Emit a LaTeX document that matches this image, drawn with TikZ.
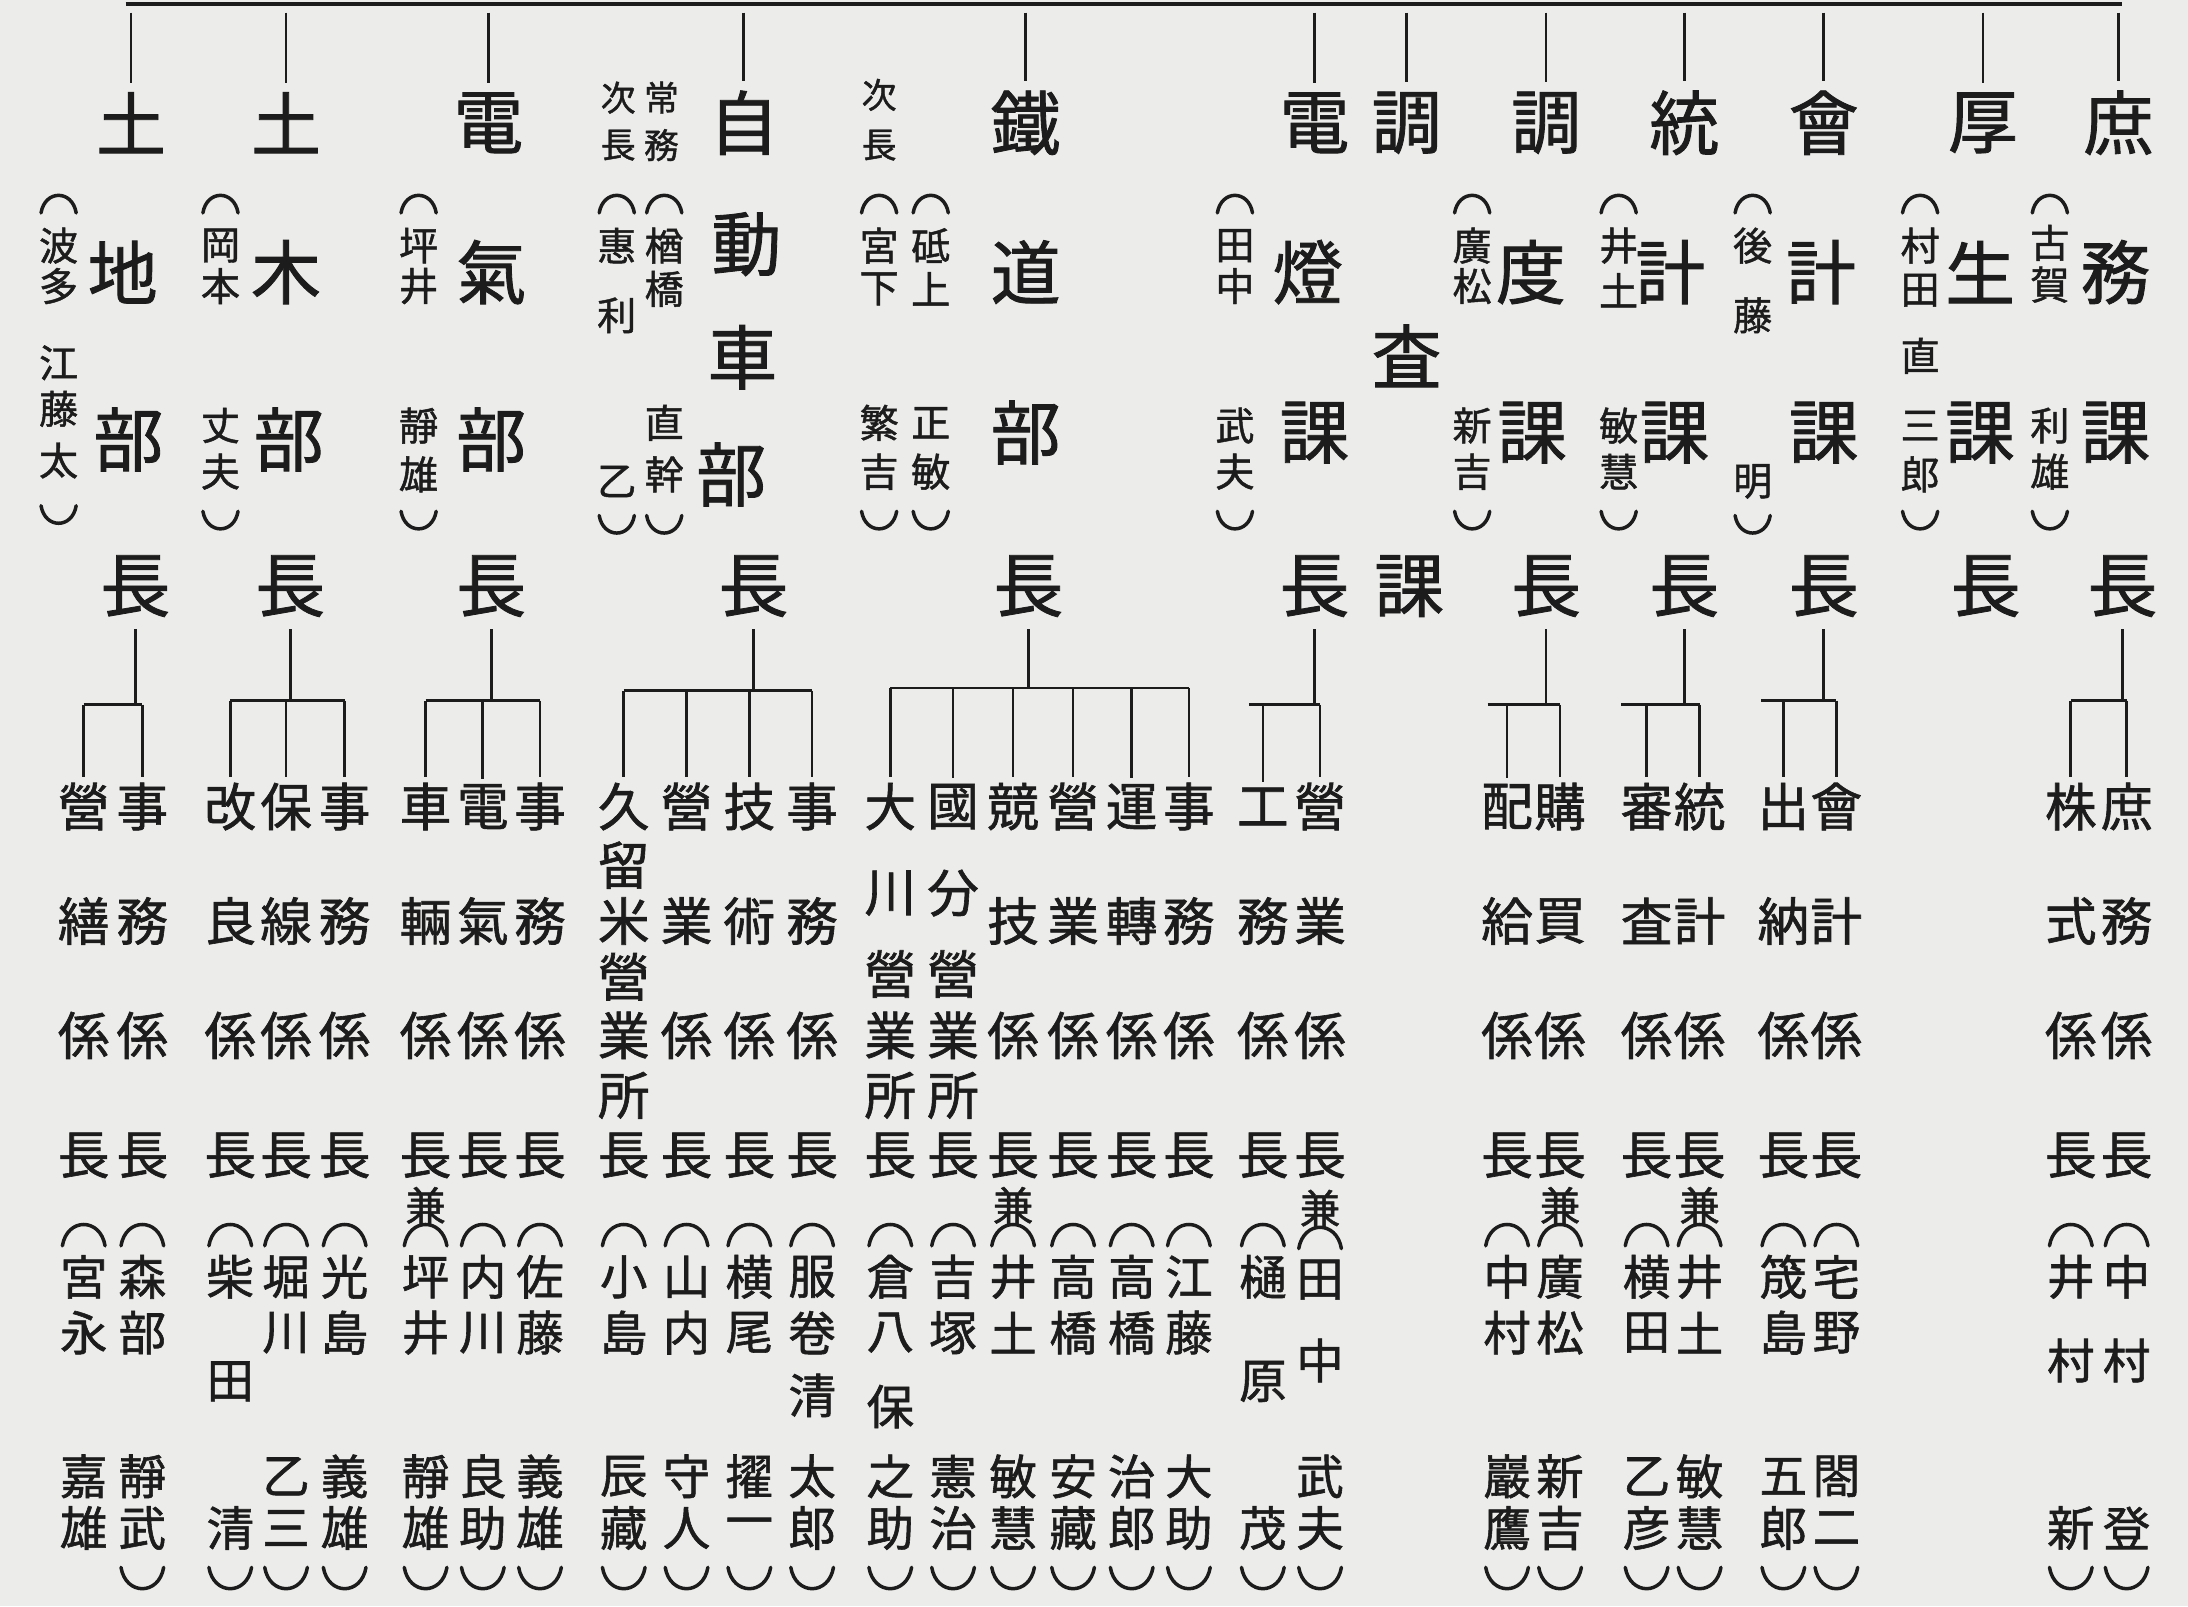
\documentclass[tikz,border=0pt]{standalone}
\usepackage{fontspec}
\newfontfamily\jp[FakeBold=1.2]{Noto Sans CJK JP}
\definecolor{ink}{RGB}{28,28,28}
\definecolor{paper}{RGB}{236,236,234}
\tikzset{
  ch/.style={inner sep=0pt, outer sep=0pt, text=ink},
  ln/.style={draw=ink, line width=1.9pt},
  paren/.style={draw=ink, line width=2.5pt, line cap=round},
}
% column of characters: name, size, list x/y/char
\newcommand\vcol[3]{\foreach \xx/\yy/\zz [count=\i] in {#3}{\node[ch, font=\jp\fontsize{#2}{#2}\selectfont] (#1-\i) at (\xx,\yy) {\zz};}}
% vertical parentheses
\newcommand\pop[3]{\draw[paren] ({#1-0.45*#3},{#2+0.2*#3}) .. controls ({#1-0.35*#3},{#2-0.4*#3}) and ({#1+0.35*#3},{#2-0.4*#3}) .. ({#1+0.45*#3},{#2+0.2*#3});}
\newcommand\pcl[3]{\draw[paren] ({#1-0.45*#3},{#2-0.2*#3}) .. controls ({#1-0.35*#3},{#2+0.4*#3}) and ({#1+0.35*#3},{#2+0.4*#3}) .. ({#1+0.45*#3},{#2-0.2*#3});}
% annotated column in parentheses: name, x, size, y-open, y-close, list y/char
\newcommand\acol[6]{\pop{#2}{#4}{#3}\pcl{#2}{#5}{#3}\foreach \yy/\zz [count=\i] in {#6}{\node[ch, font=\jp\fontsize{#3}{#3}\selectfont] (#1-\i) at (#2,\yy) {\zz};}}
% standard sub-item column
\newcommand\scol[4]{\vcol{#1}{37}{#2/578/#3,#2/660/#4,#2/742/係,#2/828/長}}
% branch connector: parent, bar y, bar x-left, bar x-right, children
\newcommand\branch[5]{\draw[ln] ([yshift=-9pt]#1.south) -- (#1.center |- 0,#2);\draw[ln] (#3,#2) -- (#4,#2);\foreach \kk in {#5}{\draw[ln] (\kk.center |- 0,#2) -- ([yshift=4pt]\kk.north);}}
\begin{document}
\begin{tikzpicture}[x=1pt,y=-1pt]
\fill[paper] (0,0) rectangle (1568,1151);
\useasboundingbox (0,0) rectangle (1568,1151);

% ---------- heads ----------
\vcol{g1}{50}{94/88/土,88/195/地,92/315/部,97/420/長}
\vcol{g2}{50}{205/88/土,205/195/木,207/315/部,208/420/長}
\vcol{g3}{50}{350/88/電,352/195/氣,352/315/部,352/420/長}
\vcol{g4}{50}{533/88/自,535/175/動,532/256/車,524/340/部,540/420/長}
\vcol{g5}{50}{735/88/鐵,735/195/道,735/310/部,737/420/長}
\vcol{g6}{50}{942/88/電,937/195/燈,942/310/課,942/420/長}
\vcol{g7}{50}{1008/88/調,1008/255/査,1010/420/課}
\vcol{g8}{50}{1108/88/調,1097/195/度,1098/310/課,1108/420/長}
\vcol{g9}{50}{1207/88/統,1197/195/計,1200/310/課,1207/420/長}
\vcol{g10}{50}{1307/88/會,1305/195/計,1307/310/課,1307/420/長}
\vcol{g11}{50}{1421/88/厚,1419/195/生,1419/310/課,1423/420/長}
\vcol{g12}{50}{1518/88/庶,1516/195/務,1516/310/課,1521/420/長}

% small titles
\vcol{s4a}{25}{443/70/次,443/104/長}
\vcol{s4b}{25}{474/70/常,474/104/務}
\vcol{s5}{25}{630/68/次,630/104/長}

% names of heads
\acol{n1}{42}{28}{147}{368}{176/波,205/多,260/江,293/藤,330/太}
\acol{n2}{158}{28}{147}{372}{176/岡,205/本,305/丈,338/夫}
\acol{n3}{300}{28}{147}{372}{176/坪,205/井,305/靜,340/雄}
\acol{n4a}{442}{28}{147}{375}{176/惠,226/利,345/乙}
\acol{n4b}{476}{28}{147}{375}{176/楢,207/橋,303/直,340/幹}
\acol{n5a}{630}{28}{147}{372}{176/宮,207/下,303/繁,338/吉}
\acol{n5b}{667}{28}{147}{372}{176/砥,207/上,303/正,338/敏}
\acol{n6}{885}{28}{147}{372}{176/田,205/中,305/武,338/夫}
\acol{n8}{1055}{28}{147}{372}{176/廣,205/松,305/新,338/吉}
\acol{n9}{1160}{28}{147}{372}{176/井,208/土,305/敏,338/慧}
\acol{n10}{1256}{28}{147}{375}{176/後,226/藤,345/明}
\acol{n11}{1376}{28}{147}{372}{176/村,208/田,255/直,305/三,340/郎}
\acol{n12}{1469}{28}{147}{372}{174/古,204/賀,305/利,338/雄}

% top bar and ticks
\coordinate (tl) at (90,3);
\coordinate (tr) at (1521,3);
\coordinate (tk) at (0,9);
\draw[ln, line width=3.2pt] (tl) -- (tr);
\foreach \n in {g1,g2,g3,g4,g5,g6,g7,g8,g9,g10,g11,g12}{\draw[ln] (\n-1.center |- tk) -- ([yshift=7pt]\n-1.north);}

% ---------- sub-sections ----------
\scol{b1a}{60}{營}{繕}
\scol{b1b}{102}{事}{務}
\scol{b2a}{165}{改}{良}
\scol{b2b}{205}{保}{線}
\scol{b2c}{247}{事}{務}
\scol{b3a}{305}{車}{輛}
\scol{b3b}{346}{電}{氣}
\scol{b3c}{387}{事}{務}
\vcol{b4a}{37}{447/578/久,447/620/留,447/660/米,447/700/營,447/742/業,447/785/所,447/828/長}
\scol{b4b}{492}{營}{業}
\scol{b4c}{537}{技}{術}
\scol{b4d}{582}{事}{務}
\vcol{b5a}{37}{638/578/大,638/640/川,638/698/營,638/742/業,638/785/所,638/828/長}
\vcol{b5b}{37}{683/578/國,683/640/分,683/698/營,683/742/業,683/785/所,683/828/長}
\scol{b5c}{726}{競}{技}
\scol{b5d}{769}{營}{業}
\scol{b5e}{811}{運}{轉}
\scol{b5f}{852}{事}{務}
\scol{b6a}{905}{工}{務}
\scol{b6b}{946}{營}{業}
\scol{b8a}{1080}{配}{給}
\scol{b8b}{1118}{購}{買}
\scol{b9a}{1180}{審}{査}
\scol{b9b}{1218}{統}{計}
\scol{b10a}{1278}{出}{納}
\scol{b10b}{1316}{會}{計}
\scol{b12a}{1484}{株}{式}
\scol{b12b}{1524}{庶}{務}

\vcol{k}{29}{305/864/兼,726/864/兼,946/866/兼,1118/864/兼,1218/864/兼}

% branches
\branch{g1-4}{505}{60}{102}{b1a-1,b1b-1}
\branch{g2-4}{502}{165}{247}{b2a-1,b2b-1,b2c-1}
\branch{g3-4}{502}{305}{387}{b3a-1,b3b-1,b3c-1}
\branch{g4-5}{495}{447}{582}{b4a-1,b4b-1,b4c-1,b4d-1}
\branch{g5-4}{493}{638}{852}{b5a-1,b5b-1,b5c-1,b5d-1,b5e-1,b5f-1}
\branch{g6-4}{505}{895}{946}{b6a-1,b6b-1}
\branch{g8-4}{505}{1066}{1118}{b8a-1,b8b-1}
\branch{g9-4}{505}{1162}{1218}{b9a-1,b9b-1}
\branch{g10-4}{502}{1262}{1316}{b10a-1,b10b-1}
\branch{g12-4}{502}{1484}{1524}{b12a-1,b12b-1}

% ---------- names of section heads ----------
\pop{60}{886}{34}
\vcol{m1a}{34}{60/915/宮,60/955/永,60/1058/嘉,60/1095/雄}
\acol{m1b}{102}{34}{886}{1130}{915/森,955/部,1058/靜,1095/武}
\acol{m2a}{165}{34}{886}{1130}{915/柴,990/田,1095/清}
\acol{m2b}{205}{34}{886}{1130}{915/堀,955/川,1058/乙,1095/三}
\acol{m2c}{247}{34}{886}{1130}{915/光,955/島,1058/義,1095/雄}
\acol{m3a}{305}{34}{886}{1130}{915/坪,955/井,1058/靜,1095/雄}
\acol{m3b}{346}{34}{886}{1130}{915/内,955/川,1058/良,1095/助}
\acol{m3c}{387}{34}{886}{1130}{915/佐,955/藤,1058/義,1095/雄}
\acol{m4a}{447}{34}{886}{1130}{915/小,955/島,1058/辰,1095/藏}
\acol{m4b}{492}{34}{886}{1130}{915/山,955/内,1058/守,1095/人}
\acol{m4c}{537}{34}{886}{1130}{915/横,955/尾,1058/擢,1095/一}
\acol{m4d}{582}{34}{886}{1130}{915/服,955/卷,1000/清,1058/太,1095/郎}
\acol{m5a}{638}{34}{886}{1130}{915/倉,955/八,1008/保,1058/之,1095/助}
\acol{m5b}{683}{34}{886}{1130}{915/吉,955/塚,1058/憲,1095/治}
\acol{m5c}{726}{34}{886}{1130}{915/井,955/土,1058/敏,1095/慧}
\acol{m5d}{769}{34}{886}{1130}{915/高,955/橋,1058/安,1095/藏}
\acol{m5e}{811}{34}{886}{1130}{915/高,955/橋,1058/治,1095/郎}
\acol{m5f}{852}{34}{886}{1130}{915/江,955/藤,1058/大,1095/助}
\acol{m6a}{905}{34}{886}{1130}{915/樋,990/原,1095/茂}
\acol{m6b}{946}{34}{888}{1130}{917/田,975/中,1058/武,1095/夫}
\acol{m8a}{1080}{34}{886}{1130}{915/中,955/村,1058/巖,1095/鷹}
\acol{m8b}{1118}{34}{886}{1130}{915/廣,955/松,1058/新,1095/吉}
\acol{m9a}{1180}{34}{886}{1130}{915/横,955/田,1058/乙,1095/彦}
\acol{m9b}{1218}{34}{886}{1130}{915/井,955/土,1058/敏,1095/慧}
\acol{m10a}{1278}{34}{886}{1130}{915/筬,955/島,1058/五,1095/郎}
\acol{m10b}{1316}{34}{886}{1130}{915/宅,955/野,1058/閤,1095/二}
\acol{m12a}{1484}{34}{886}{1130}{915/井,975/村,1095/新}
\acol{m12b}{1524}{34}{886}{1130}{915/中,975/村,1095/登}
\end{tikzpicture}
\end{document}
